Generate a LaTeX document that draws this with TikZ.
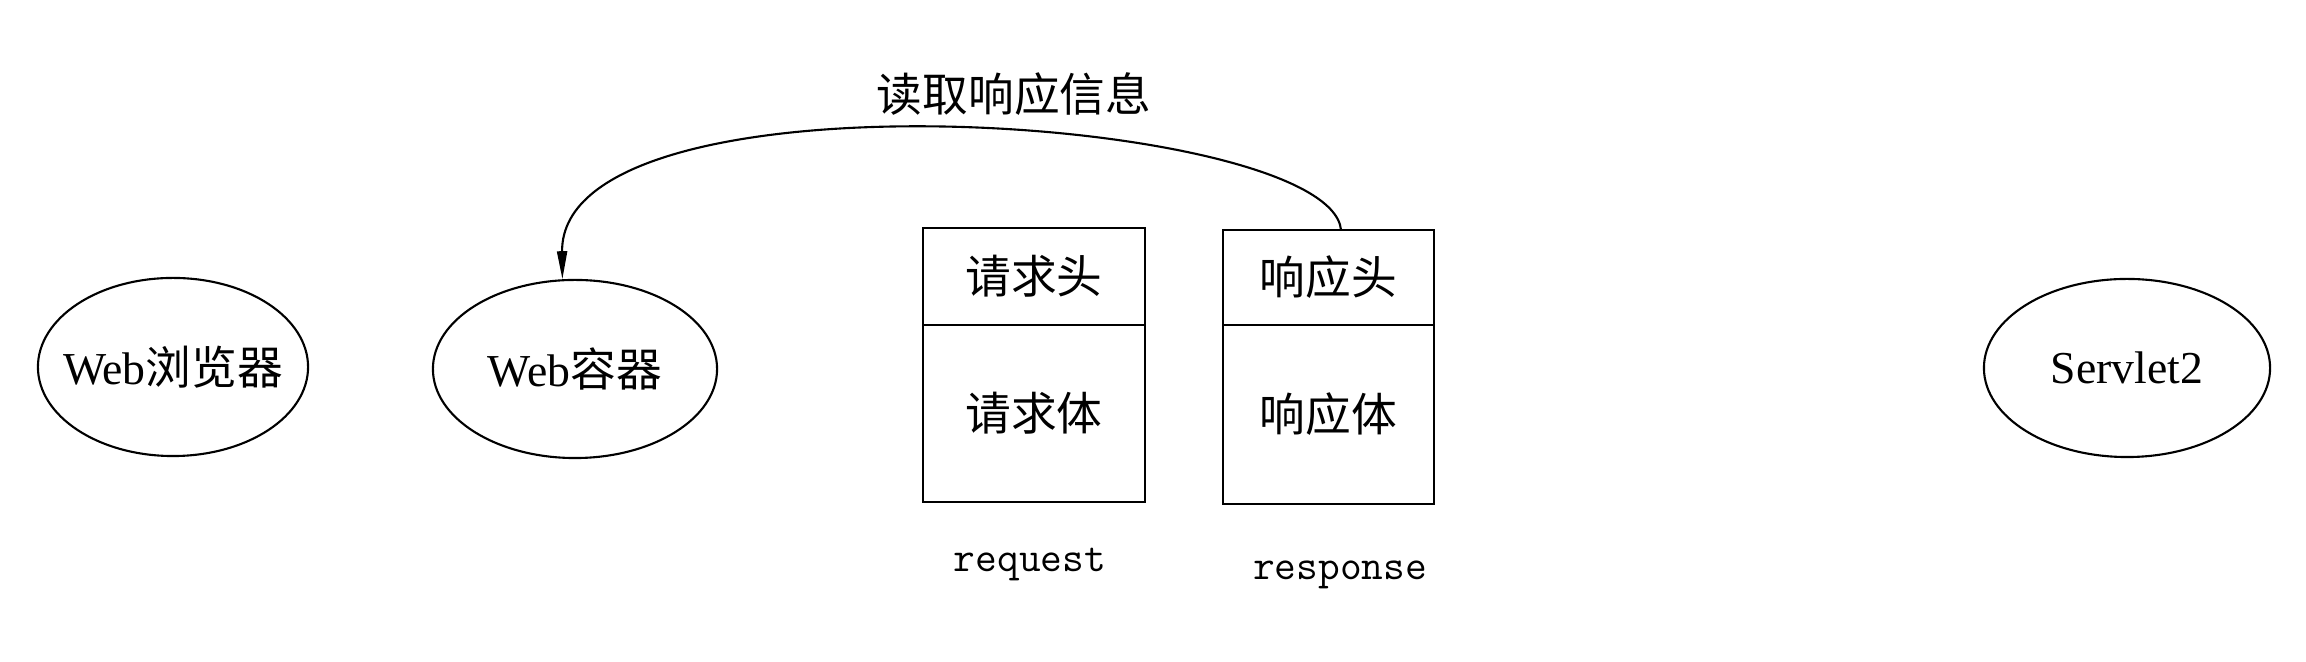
\documentclass[tikz,border=0pt]{standalone}
\usepackage{fontspec}
\setmainfont{Liberation Serif}
\newfontfamily\cjk{Noto Sans CJK SC}
\usetikzlibrary{positioning, arrows.meta, shapes.geometric}

\begin{document}
\begin{tikzpicture}[
			x=0.01cm, y=-0.01cm,
			line width=0.6pt,
			font=\fontsize{13pt}{15pt}\selectfont,
			proc/.style={
				draw,
				ellipse,
				minimum height=1.78cm,
				inner sep=0pt
			},
			part/.style={
				draw,
				rectangle,
				inner sep=0pt,
				outer sep=0pt
			},
			tag/.style={
				font=\ttfamily\fontsize{12pt}{14pt}\selectfont,
				anchor=base,
				inner sep=0pt
			},
			flow/.style={
				-{Triangle[length=0.28cm, width=0.1cm]}
			}
			]
			\useasboundingbox (0,0) rectangle (2306,662);

			% Processes
			\node[proc, minimum width=2.70cm] (browser) at (173,367) {\makebox[0pt]{Web\cjk 浏览器}};
			\node[proc, minimum width=2.84cm] (container) at (575,369) {\makebox[0pt]{Web\cjk 容器}};
			\node[proc, minimum width=2.86cm] (servlet) at (2127,368) {\makebox[0pt]{Servlet2}};

			% Request and response
			\node[part, minimum width=2.22cm, minimum height=0.97cm] (reqhead) at (1034,276.5) {\cjk 请求头};
			\node[part, minimum width=2.22cm, minimum height=1.77cm, below=0pt of reqhead] (reqbody) {\cjk 请求体};
			\node[part, minimum width=2.11cm, minimum height=0.95cm] (resphead) at (1328.5,277.5) {\cjk 响应头};
			\node[part, minimum width=2.11cm, minimum height=1.79cm, below=0pt of resphead] (respbody) {\cjk 响应体};
			\node[tag] (reqtag) at (1030,572) {request};
			\node[tag] (resptag) at (1340,580) {response};

			% Reading
			\node (readlbl) at (1014,94) {\cjk 读取响应信息};
			\draw[flow] ([xshift=0.125cm]resphead.north) .. controls (1330,115) and (560,62) .. (container.98);
		\end{tikzpicture}
\end{document}
